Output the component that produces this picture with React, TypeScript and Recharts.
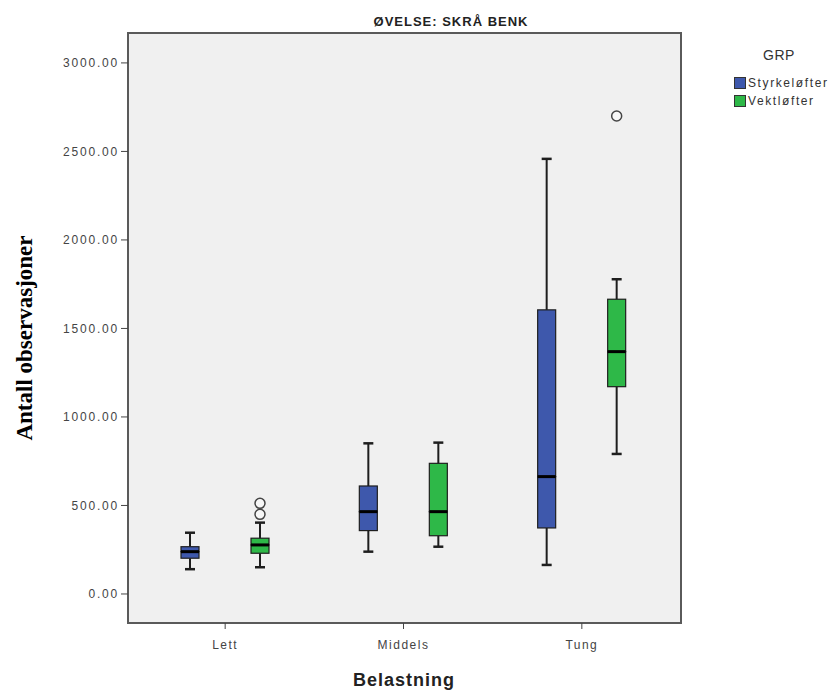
import { Bar, ComposedChart, XAxis, YAxis } from "recharts";

const categories = ["Lett", "Middels", "Tung"];

// Styrkeløfter
const styrkeMin = [140, 239, 164];
const styrkeQ1 = [202, 358, 373];
const styrkeMedian = [239, 465, 663];
const styrkeQ3 = [267, 610, 1605];
const styrkeMax = [346, 851, 2458];
const styrkeOutliers: number[][] = [[], [], []];

// Vektløfter
const vektMin = [151, 267, 791];
const vektQ1 = [230, 329, 1171];
const vektMedian = [277, 465, 1369];
const vektQ3 = [315, 738, 1665];
const vektMax = [403, 855, 1778];
const vektOutliers: number[][] = [[450, 512], [], [2700]];

const yTicks = [0, 500, 1000, 1500, 2000, 2500, 3000];

const BLUE = "#3e58ac";
const GREEN = "#2eb848";
const INK = "#1e1e1e";

function segments(
  prefix: string,
  min: number[],
  q1: number[],
  med: number[],
  q3: number[],
  max: number[],
  outliers: number[][],
  i: number
) {
  const o = outliers[i];
  return {
    [`${prefix}Base`]: min[i],
    [`${prefix}LowW`]: q1[i] - min[i],
    [`${prefix}LowB`]: med[i] - q1[i],
    [`${prefix}HighB`]: q3[i] - med[i],
    [`${prefix}HighW`]: max[i] - q3[i],
    [`${prefix}Out1`]: o.length > 0 ? o[0] - max[i] : 0,
    [`${prefix}Out2`]: o.length > 1 ? o[1] - o[0] : 0,
  };
}

const data = categories.map((name, i) => ({
  name,
  ...segments("s", styrkeMin, styrkeQ1, styrkeMedian, styrkeQ3, styrkeMax, styrkeOutliers, i),
  ...segments("v", vektMin, vektQ1, vektMedian, vektQ3, vektMax, vektOutliers, i),
}));

const Empty = () => <g />;

const LowerWhisker = (p: any) => {
  const cx = p.x + p.width / 2;
  const bottom = p.y + p.height;
  return (
    <g>
      <line x1={cx} x2={cx} y1={p.y} y2={bottom} stroke={INK} strokeWidth={2} />
      <line x1={cx - 5} x2={cx + 5} y1={bottom} y2={bottom} stroke={INK} strokeWidth={2.5} />
    </g>
  );
};

const UpperWhisker = (p: any) => {
  const cx = p.x + p.width / 2;
  return (
    <g>
      <line x1={cx} x2={cx} y1={p.y} y2={p.y + p.height} stroke={INK} strokeWidth={2} />
      <line x1={cx - 5} x2={cx + 5} y1={p.y} y2={p.y} stroke={INK} strokeWidth={2.5} />
    </g>
  );
};

const makeBox = (fill: string, withMedian: boolean) => (p: any) => (
  <g>
    <rect x={p.x} y={p.y} width={p.width} height={p.height} fill={fill} stroke={INK} strokeWidth={1.2} />
    {withMedian ? (
      <line x1={p.x} x2={p.x + p.width} y1={p.y + p.height} y2={p.y + p.height} stroke="#000" strokeWidth={3} />
    ) : null}
  </g>
);

const Outlier = (p: any) => {
  if (!p.height || p.height < 0.5) return <g />;
  return <circle cx={p.x + p.width / 2} cy={p.y} r={5} fill="#f7f7f7" stroke="#444" strokeWidth={1.5} />;
};

function boxSeries(prefix: string, color: string) {
  return [
    <Bar key={prefix + "Base"} dataKey={prefix + "Base"} stackId={prefix} shape={Empty} isAnimationActive={false} legendType="none" />,
    <Bar key={prefix + "LowW"} dataKey={prefix + "LowW"} stackId={prefix} shape={LowerWhisker} isAnimationActive={false} legendType="none" />,
    <Bar key={prefix + "LowB"} dataKey={prefix + "LowB"} stackId={prefix} shape={makeBox(color, false)} isAnimationActive={false} legendType="none" />,
    <Bar key={prefix + "HighB"} dataKey={prefix + "HighB"} stackId={prefix} shape={makeBox(color, true)} isAnimationActive={false} legendType="none" />,
    <Bar key={prefix + "HighW"} dataKey={prefix + "HighW"} stackId={prefix} shape={UpperWhisker} isAnimationActive={false} legendType="none" />,
    <Bar key={prefix + "Out1"} dataKey={prefix + "Out1"} stackId={prefix} shape={Outlier} isAnimationActive={false} legendType="none" />,
    <Bar key={prefix + "Out2"} dataKey={prefix + "Out2"} stackId={prefix} shape={Outlier} isAnimationActive={false} legendType="none" />,
  ];
}

const sans = '"Liberation Sans", Arial, sans-serif';

export default function App() {
  return (
    <div style={{ position: "absolute", left: 0, top: 0, width: 837, height: 691, background: "#fff", fontFamily: sans }}>
      {/* plot frame */}
      <div
        style={{
          position: "absolute",
          left: 127,
          top: 32,
          width: 555,
          height: 592,
          boxSizing: "border-box",
          border: "2px solid #5a5a5a",
          background: "#f0f0f0",
        }}
      />
      <div
        style={{
          position: "absolute",
          left: 451,
          top: 21,
          transform: "translate(-50%, -50%)",
          fontSize: 13,
          fontWeight: 700,
          letterSpacing: 1,
          color: "#222",
          whiteSpace: "nowrap",
        }}
      >
        ØVELSE: SKRÅ BENK
      </div>
      <div style={{ position: "absolute", left: 0, top: 0 }}>
        <ComposedChart
          width={837}
          height={691}
          data={data}
          margin={{ top: 33, right: 157, bottom: 38, left: 68 }}
          barSize={18}
          barGap={52}
        >
          <XAxis
            dataKey="name"
            height={30}
            axisLine={false}
            tickSize={6}
            tickMargin={11}
            tickLine={{ stroke: "#444" }}
            tick={{ fontSize: 12, fill: "#444", letterSpacing: 1.5 }}
            padding={{ left: 8, right: 9 }}
          />
          <YAxis
            type="number"
            width={60}
            domain={[-164, 3169]}
            allowDataOverflow
            ticks={yTicks}
            interval={0}
            axisLine={false}
            tickSize={7}
            tickMargin={2}
            tickLine={{ stroke: "#444" }}
            tick={{ fontSize: 12, fill: "#444", letterSpacing: 1.8 }}
            tickFormatter={(v: number) => v.toFixed(2)}
          />
          {boxSeries("s", BLUE)}
          {boxSeries("v", GREEN)}
        </ComposedChart>
      </div>
      <div
        style={{
          position: "absolute",
          left: 25,
          top: 338,
          transform: "translate(-50%, -50%) rotate(-90deg)",
          fontFamily: '"Liberation Serif", "Times New Roman", serif',
          fontWeight: 700,
          fontSize: 23,
          whiteSpace: "nowrap",
          color: "#000",
        }}
      >
        Antall observasjoner
      </div>
      <div
        style={{
          position: "absolute",
          left: 404,
          top: 680,
          transform: "translate(-50%, -50%)",
          fontSize: 18,
          fontWeight: 700,
          letterSpacing: 1,
          color: "#222",
          whiteSpace: "nowrap",
        }}
      >
        Belastning
      </div>
      {/* legend */}
      <div
        style={{
          position: "absolute",
          left: 779,
          top: 55,
          transform: "translate(-50%, -50%)",
          fontSize: 14,
          letterSpacing: 0.5,
          color: "#333",
        }}
      >
        GRP
      </div>
      <div style={{ position: "absolute", left: 734, top: 74, fontSize: 12, letterSpacing: 1.6, color: "#333" }}>
        {[
          { label: "Styrkeløfter", color: BLUE },
          { label: "Vektløfter", color: GREEN },
        ].map((item) => (
          <div key={item.label} style={{ display: "flex", alignItems: "center", height: 18, whiteSpace: "nowrap" }}>
            <span
              style={{
                display: "inline-block",
                width: 12,
                height: 12,
                background: item.color,
                border: "1px solid #333",
                boxSizing: "border-box",
                marginRight: 2,
              }}
            />
            {item.label}
          </div>
        ))}
      </div>
    </div>
  );
}
